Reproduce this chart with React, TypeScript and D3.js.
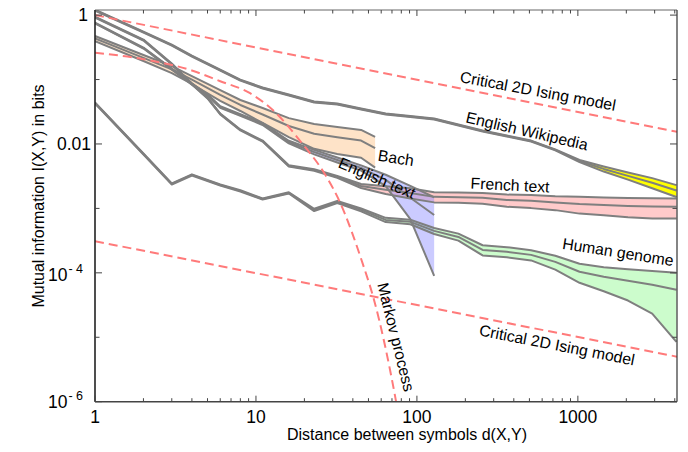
import React from 'react';
import * as d3 from 'd3';

const W = 688;
const H = 452;

// ---- data (mutual information in bits vs distance d), value ± 1 sigma ----
const wikiD = [1, 2, 3, 4, 6, 8, 11, 16, 23, 32, 45, 64, 91, 128, 181, 256, 362, 512, 724, 1024, 1448, 2048, 2896, 4096];
const wikiMI = [1.195, 0.545, 0.343, 0.231, 0.14, 0.098, 0.0738, 0.0575, 0.0448, 0.0417, 0.0349, 0.0292, 0.0267, 0.0244, 0.0197, 0.0159, 0.0133, 0.0111, 0.0081, 0.00545, 0.0041, 0.0032, 0.0025, 0.0019];
const wikiSigma = [0.02, 0.01, 0.006, 0.004, 0.0025, 0.0018, 0.0013, 0.001, 0.0008, 0.0007, 0.0006, 0.0005, 0.00045, 0.0004, 0.0003, 0.00025, 0.0002, 0.00018, 0.00015, 0.0002, 0.00037, 0.0004, 0.00045, 0.0004];

const genomeD = [1, 2, 3, 4, 6, 8, 11, 16, 23, 32, 45, 64, 91, 128, 181, 256, 362, 512, 724, 1024, 1448, 2048, 2896, 4096];
const genomeMI = [0.0432, 0.007, 0.0024, 0.00331, 0.00231, 0.00187, 0.0014, 0.00174, 0.000948, 0.00126, 0.000948, 0.000663, 0.000618, 0.000448, 0.000361, 0.000227, 0.000212, 0.00019, 0.000148, 0.000104, 0.0000867, 0.0000752, 0.0000652, 0.0000545];
const genomeSigma = [0.0008, 0.00013, 0.00005, 0.00007, 0.00005, 0.00004, 0.00003, 0.00004, 0.00004, 0.00005, 0.00005, 0.00005, 0.00005, 0.000048, 0.000045, 0.000041, 0.000038, 0.000034, 0.000036, 0.000034, 0.000035, 0.000038, 0.000042, 0.000046];

const frenchD = [1, 2, 3, 4, 5, 6, 8, 11, 16, 23, 32, 45, 64, 91, 128, 181, 256, 362, 512, 724, 1024, 1448, 2048, 2896, 4096];
const frenchMI = [0.931, 0.41, 0.174, 0.0852, 0.0517, 0.0292, 0.0165, 0.0111, 0.00456, 0.00395, 0.00308, 0.00223, 0.00194, 0.00174, 0.00151, 0.00149, 0.00146, 0.00135, 0.00131, 0.00124, 0.00117, 0.00113, 0.00109, 0.00107, 0.00106];
const frenchSigma = [0.015, 0.007, 0.003, 0.0015, 0.0009, 0.0005, 0.0003, 0.0002, 0.0001, 0.0001, 0.0001, 0.00016, 0.00027, 0.00031, 0.00027, 0.00027, 0.00028, 0.00029, 0.0003, 0.0003, 0.00034, 0.00035, 0.00036, 0.00037, 0.00036];

const englishD = [1, 2, 3, 4, 5, 6, 8, 11, 16, 23, 32, 45, 64, 91, 128];
const englishMI = [0.751, 0.308, 0.1455, 0.0852, 0.0575, 0.0375, 0.0282, 0.0204, 0.0107, 0.0075, 0.00565, 0.00425, 0.00277, 0.00146, 0.00079];
const englishSigma = [0.01, 0.005, 0.003, 0.002, 0.0015, 0.001, 0.0008, 0.0007, 0.0005, 0.0006, 0.0005, 0.0004, 0.00056, 0.00078, 0.0007];

const bachD = [1, 2, 3, 4, 6, 8, 11, 16, 23, 32, 45, 55];
const bachMI = [0.434, 0.217, 0.144, 0.0993, 0.0576, 0.0403, 0.0287, 0.019, 0.0144, 0.0127, 0.0113, 0.0086];
const bachSigma = [0.039, 0.023, 0.018, 0.014, 0.011, 0.0078, 0.0075, 0.0062, 0.006, 0.0057, 0.0052, 0.0043];

// theoretical curves
const isingHighD = [1, 4130];
const isingHighMI = [1.0, 0.0154];
const isingLowD = [1, 4130];
const isingLowMI = [3.1e-4, 5.0e-6];
const markovD = [1, 2, 4, 6, 9, 13, 19, 27, 33, 46, 54, 74, 80];
const markovMI = [0.26, 0.207, 0.138, 0.094, 0.063, 0.032, 0.0108, 0.0033, 0.0013, 1.4e-4, 3.9e-5, 1.05e-6, 3.5e-7];

// axes
const xMajorTicks = [1, 10, 100, 1000];
const xTickLabels = ['1', '10', '100', '1000'];
const yMajorTicks = [1, 0.01, 1e-4, 1e-6];
const yMinorTicks = [0.1, 1e-3, 1e-5];

const GRAY = '#7f7f7f';
const RED = '#ff7a7a';
const FONT = 'Liberation Sans, Arial, Helvetica, sans-serif';

export default function App() {
  const x = d3.scaleLog().domain([1, 4130]).range([95, 677]);
  const y = d3.scaleLog().domain([1e-6, 1.2]).range([401.7, 10]);
  const left = 95, right = 677, top = 10, bottom = 401.7;

  const clampY = (v: number) => y(Math.max(v, 1e-8));

  const mk = (ds: number[], mi: number[], sg: number[]) => ds.map((d, i) => ({ d, m: mi[i], s: sg[i] }));
  const datasets = [
    { key: 'genome', pts: mk(genomeD, genomeMI, genomeSigma), fill: '#ccfccc', op: 1 },
    { key: 'french', pts: mk(frenchD, frenchMI, frenchSigma), fill: '#ffcaca', op: 1 },
    { key: 'english', pts: mk(englishD, englishMI, englishSigma), fill: 'rgb(140,140,255)', op: 0.45 },
    { key: 'bach', pts: mk(bachD, bachMI, bachSigma), fill: '#fee3c8', op: 1 },
    { key: 'wiki', pts: mk(wikiD, wikiMI, wikiSigma), fill: '#ffff00', op: 1 },
  ];
  type P = { d: number; m: number; s: number };
  const area = d3.area<P>().x(p => x(p.d)).y0(p => clampY(p.m - p.s)).y1(p => clampY(p.m + p.s));
  const lineHi = d3.line<P>().x(p => x(p.d)).y(p => clampY(p.m + p.s));
  const lineMid = d3.line<P>().x(p => x(p.d)).y(p => clampY(p.m));
  const lineLo = d3.line<P>().x(p => x(p.d)).y(p => clampY(p.m - p.s));

  const dashLine = d3.line<[number, number]>().x(p => x(p[0])).y(p => y(p[1]));
  const dashCurve = d3.line<[number, number]>().x(p => x(p[0])).y(p => y(p[1])).curve(d3.curveMonotoneX);
  const zip = (a: number[], b: number[]) => a.map((v, i) => [v, b[i]] as [number, number]);

  const xMinor: number[] = [];
  for (let e = 0; e < 4; e++) for (let k = 2; k <= 9; k++) { const v = k * Math.pow(10, e); if (v < 4130) xMinor.push(v); }

  const labels = [
    { t: 'Critical 2D Ising model', x: 538, y: 91, r: 10.5 },
    { t: 'English Wikipedia', x: 527, y: 131, r: 13 },
    { t: 'French text', x: 510, y: 185, r: 3 },
    { t: 'Bach', x: 396, y: 158, r: 9 },
    { t: 'English text', x: 377, y: 178, r: 23 },
    { t: 'Human genome', x: 618, y: 252, r: 9 },
    { t: 'Critical 2D Ising model', x: 557, y: 345, r: 11 },
    { t: 'Markov process', x: 396, y: 337, r: 76 },
  ];

  return (
    <svg width={W} height={H} style={{ position: 'absolute', left: 0, top: 0, background: '#fff' }} fontFamily={FONT}>
      <defs>
        <clipPath id="plot"><rect x={left} y={top} width={right - left} height={bottom - top} /></clipPath>
      </defs>
      <g clipPath="url(#plot)">
        {datasets.map(ds => (
          <path key={ds.key + 'a'} d={area(ds.pts) || ''} fill={ds.fill} fillOpacity={ds.op} stroke="none" />
        ))}
        {datasets.map(ds => (
          <g key={ds.key + 'l'} fill="none" stroke={GRAY} strokeWidth={2} strokeLinejoin="round">
            <path d={lineHi(ds.pts) || ''} />
            <path d={lineMid(ds.pts) || ''} />
            <path d={lineLo(ds.pts) || ''} />
          </g>
        ))}
        <g fill="none" stroke={RED} strokeWidth={2} strokeDasharray="9,5">
          <path d={dashLine(zip(isingHighD, isingHighMI)) || ''} />
          <path d={dashLine(zip(isingLowD, isingLowMI)) || ''} />
          <path d={dashCurve(zip(markovD, markovMI)) || ''} />
        </g>
      </g>

      {/* frame */}
      <line x1={left} x2={right} y1={top} y2={top} stroke="#666" strokeWidth={1} />
      <line x1={right} x2={right} y1={top} y2={bottom} stroke="#333" strokeWidth={1.2} />
      <line x1={left} x2={left} y1={top} y2={bottom} stroke="#222" strokeWidth={1.6} />
      <line x1={left} x2={right} y1={bottom} y2={bottom} stroke="#444" strokeWidth={1.6} />

      {/* ticks */}
      <g stroke="#444" strokeWidth={1}>
        {xMajorTicks.map(v => (
          <g key={'xM' + v}>
            <line x1={x(v)} x2={x(v)} y1={bottom} y2={bottom - 6} />
            <line x1={x(v)} x2={x(v)} y1={top} y2={top + 6} />
          </g>
        ))}
        {xMinor.map(v => (
          <g key={'xm' + v}>
            <line x1={x(v)} x2={x(v)} y1={bottom} y2={bottom - 3.5} />
            <line x1={x(v)} x2={x(v)} y1={top} y2={top + 3.5} />
          </g>
        ))}
        {yMajorTicks.map(v => (
          <g key={'yM' + v}>
            <line x1={left} x2={left + 7} y1={y(v)} y2={y(v)} />
            <line x1={right} x2={right - 7} y1={y(v)} y2={y(v)} />
          </g>
        ))}
        {yMinorTicks.map(v => (
          <g key={'ym' + v}>
            <line x1={left} x2={left + 4.5} y1={y(v)} y2={y(v)} />
            <line x1={right} x2={right - 4.5} y1={y(v)} y2={y(v)} />
          </g>
        ))}
      </g>

      {/* tick labels */}
      <g fontSize={17.5} fill="#000">
        {xMajorTicks.map((v, i) => (
          <text key={'xl' + v} x={x(v)} y={417} textAnchor="middle" dominantBaseline="central">{xTickLabels[i]}</text>
        ))}
        <text x={88} y={y(1)} textAnchor="end" dominantBaseline="central">1</text>
        <text x={91} y={y(0.01)} textAnchor="end" dominantBaseline="central">0.01</text>
        <text x={83} y={y(1e-4) + 2} textAnchor="end" dominantBaseline="central">
          10<tspan fontSize={12.5} dy={-6} dx={1}>- 4</tspan>
        </text>
        <text x={83} y={y(1e-6) + 0} textAnchor="end" dominantBaseline="central">
          10<tspan fontSize={12.5} dy={-6} dx={1}>- 6</tspan>
        </text>
      </g>

      {/* axis titles */}
      <text x={407} y={434} fontSize={16} textAnchor="middle" dominantBaseline="central">Distance between symbols d(X,Y)</text>
      <text transform="translate(38,196) rotate(-90)" fontSize={16} textAnchor="middle" dominantBaseline="central">Mutual information I(X,Y) in bits</text>

      {/* curve labels */}
      <g fontSize={15.8} fill="#000">
        {labels.map((l, i) => (
          <text key={'lab' + i} transform={`translate(${l.x},${l.y}) rotate(${l.r})`} textAnchor="middle" dominantBaseline="central">{l.t}</text>
        ))}
      </g>
    </svg>
  );
}
